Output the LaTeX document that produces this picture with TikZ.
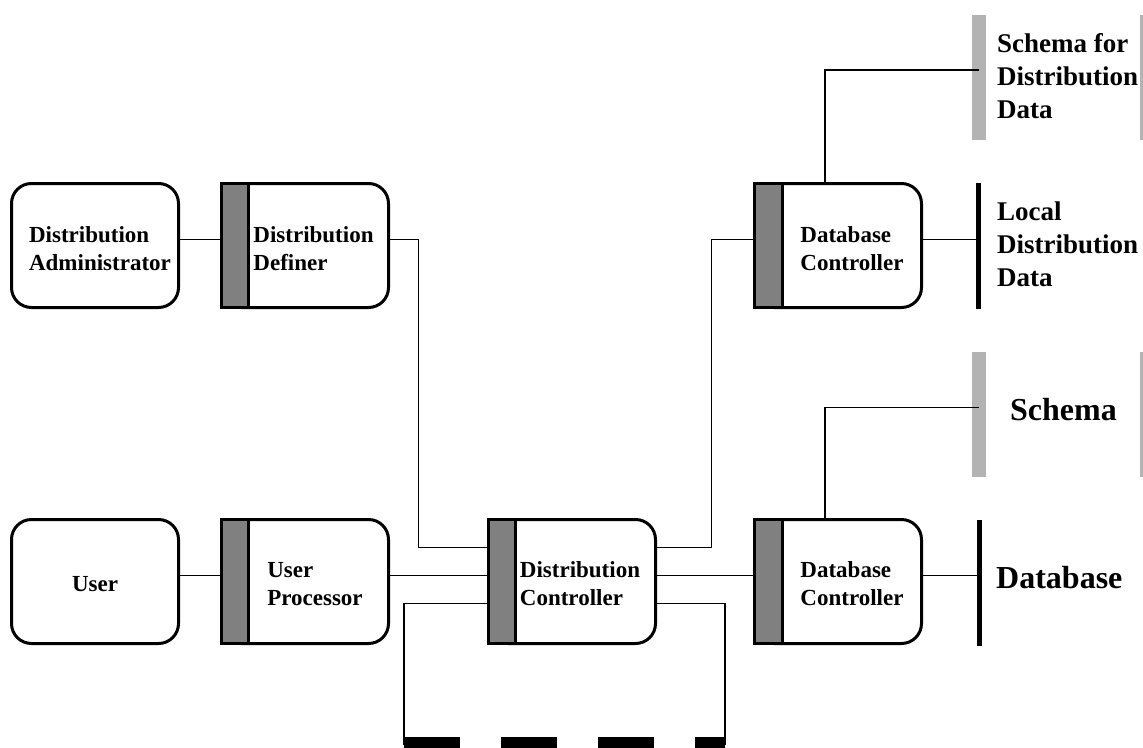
\documentclass[tikz,border=0pt]{standalone}
\usepackage{fontspec}
\setmainfont{Liberation Serif}
\definecolor{bargray}{HTML}{808080}
\definecolor{storegray}{HTML}{B3B3B3}
\begin{document}
\begin{tikzpicture}[x=1pt, y=-1pt,
  proc/.style={draw, line width=3pt, rounded corners=20pt, minimum width=167pt, minimum height=124pt, inner sep=0pt, outer sep=0pt},
  sidebar/.style={draw, line width=3pt, fill=bargray},
  boxtext/.style={font=\bfseries\fontsize{23}{28}\selectfont, align=left, inner sep=0pt},
  storetext/.style={font=\bfseries\fontsize{27}{33}\selectfont, align=left, inner sep=0pt, anchor=west},
  bigtext/.style={font=\bfseries\fontsize{32}{36}\selectfont, inner sep=0pt},
  graystore/.style={fill=storegray, minimum width=14pt, minimum height=125pt, inner sep=0pt, outer sep=0pt},
  blackstore/.style={fill=black, minimum width=5pt, minimum height=126pt, inner sep=0pt, outer sep=0pt},
  wire/.style={line width=1.6pt}]
  \clip (0,0) rectangle (1143,747);

  % processes
  \node[proc] (da) at (95, 245.5) {};
  \node[proc] (dd) at (305, 245.5) {};
  \node[proc] (us) at (95, 581.5) {};
  \node[proc] (up) at (305, 581.5) {};
  \node[proc] (dc) at (572, 581.5) {};
  \node[proc] (dbt) at (838, 245.5) {};
  \node[proc] (dbb) at (838, 581.5) {};

  \draw[sidebar] (dd.north west) rectangle ([xshift=27pt]dd.south west);
  \draw[sidebar] (up.north west) rectangle ([xshift=27pt]up.south west);
  \draw[sidebar] (dc.north west) rectangle ([xshift=27pt]dc.south west);
  \draw[sidebar] (dbt.north west) rectangle ([xshift=28pt]dbt.south west);
  \draw[sidebar] (dbb.north west) rectangle ([xshift=28pt]dbb.south west);

  \node[boxtext] (dalabel) at ([xshift=5pt, yshift=-3pt]da.center) {Distribution\\Administrator};
  \node[boxtext] (ddlabel) at ([xshift=8.5pt, yshift=-3pt]dd.center) {Distribution\\Definer};
  \node[boxtext] (uslabel) at ([yshift=-2.5pt]us.center) {User};
  \node[boxtext] (uplabel) at ([xshift=10pt, yshift=-2.5pt]up.center) {User\\Processor};
  \node[boxtext] (dclabel) at ([xshift=8pt, yshift=-2.5pt]dc.center) {Distribution\\Controller};
  \node[boxtext] (dbtlabel) at ([xshift=14pt, yshift=-3pt]dbt.center) {Database\\Controller};
  \node[boxtext] (dbblabel) at ([xshift=14pt, yshift=-2.5pt]dbb.center) {Database\\Controller};

  % data stores
  \node[graystore] (sddbar) at (979, 77.5) {};
  \node[graystore] (sddend) at (1147, 77.5) {};
  \node[storetext] (sddlabel) at (997, 76) {Schema for\\Distribution\\Data};
  \node[blackstore] (lddbar) at (978.5, 245.5) {};
  \node[storetext] (lddlabel) at (997, 244) {Local\\Distribution\\Data};
  \node[graystore] (schbar) at (979, 414) {};
  \node[graystore] (schend) at (1147, 414) {};
  \node[bigtext] (schlabel) at (1063.5, 410) {Schema};
  \node[blackstore] (dbbar) at (979, 582.5) {};
  \node[bigtext, anchor=west] (dblabel) at (996, 578) {Database};

  % connectors
  \coordinate (tapel) at (404, 745);
  \coordinate (taper) at (725, 745);
  \draw[wire] ([yshift=6pt]da.east) -- ([yshift=6pt]dd.west);
  \draw[wire] ([yshift=6pt]dd.east) -| ([xshift=-70pt, yshift=34pt]dc.west) -- ([yshift=34pt]dc.west);
  \draw[wire] ([yshift=6pt]us.east) -- ([yshift=6pt]up.west);
  \draw[wire] ([yshift=6pt]up.east) -- ([yshift=6pt]dc.west);
  \draw[wire] ([yshift=-22pt]dc.west) -| (tapel);
  \draw[wire] ([yshift=-22pt]dc.east) -| (taper);
  \draw[wire] ([yshift=34pt]dc.east) -| ([xshift=-43pt, yshift=6pt]dbt.west) -- ([yshift=6pt]dbt.west);
  \draw[wire] ([yshift=6pt]dc.east) -- ([yshift=6pt]dbb.west);
  \draw[wire] ([xshift=-13pt]dbt.north) |- ([yshift=7.5pt]sddbar.center);
  \draw[wire] ([yshift=6pt]dbt.east) -- ([yshift=6pt]lddbar.center);
  \draw[wire] ([xshift=-13pt]dbb.north) |- ([yshift=6.5pt]schbar.center);
  \draw[wire] ([yshift=6pt]dbb.east) -- ([yshift=7pt]dbbar.center);
  \draw[line width=16pt, dash pattern=on 56pt off 41pt] (tapel) -- (taper);
\end{tikzpicture}
\end{document}
